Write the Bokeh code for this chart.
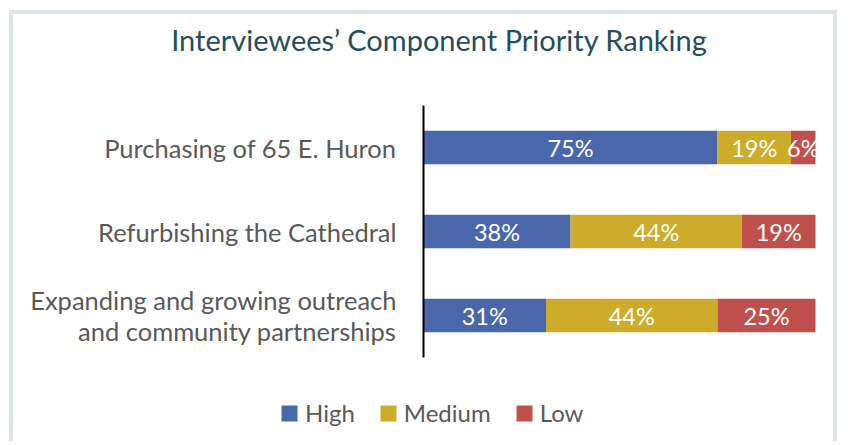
from bokeh.plotting import figure
from bokeh.models import FactorRange, Range1d, Legend, LegendItem, ColumnDataSource, Label
from bokeh.core.properties import value
from bokeh.embed import file_html
from bokeh.resources import INLINE

categories = ["Purchasing of 65 E. Huron",
              "Refurbishing the Cathedral",
              "Expanding and growing outreach\nand community partnerships"]
series = ["High", "Medium", "Low"]
high = [75.0, 37.5, 31.25]
medium = [18.75, 43.75, 43.75]
low = [6.25, 18.75, 25.0]
labels_high = ["75%", "38%", "31%"]
labels_medium = ["19%", "44%", "44%"]
labels_low = ["6%", "19%", "25%"]
colors = ["#4A67AC", "#CCAC2A", "#C0504D"]

FONT = "Lato"
BORDER = "4px solid #dde4e7"
# layout (pixels): canvas 828 x 431, plot area starts 410 px from the left
W, H = 828, 431
TOP_PAD = 3
AREA_LEFT, AREA_W = 410, 392          # where 0..100 % is drawn
BAND = 84                             # px per category
px_per_unit = AREA_W / 100.0
x_start = -AREA_LEFT / px_per_unit
x_end = x_start + W / px_per_unit
frame_h = H - TOP_PAD
pad_units = (frame_h - BAND * len(categories)) / BAND / 2   # padding on each side

p = figure(width=W, height=H, output_backend="svg", toolbar_location=None,
           x_range=Range1d(x_start, x_end),
           y_range=FactorRange(*reversed(categories), range_padding=pad_units,
                               range_padding_units="absolute"),
           min_border_left=0, min_border_right=0, min_border_top=TOP_PAD,
           min_border_bottom=0, outline_line_color=None,
           styles={"border-top": BORDER, "border-left": BORDER, "border-right": BORDER,
                   "margin-left": "9px", "margin-top": "10px"})
p.xaxis.visible = False
p.yaxis.visible = False
p.xgrid.visible = False
p.ygrid.visible = False

src = ColumnDataSource(dict(cat=categories, High=high, Medium=medium, Low=low))
renderers = p.hbar_stack(series, y="cat", height=0.4, color=colors, source=src, line_color=None)

# vertical category axis line
p.segment(x0=[0], y0=[0], x1=[0], y1=[len(categories)], line_color="black", line_width=2)

# category labels
p.text(x=[0] * len(categories), y=categories, text=categories, x_offset=-27,
       text_color="#595959", text_font=value(FONT), text_font_size="25.5px",
       text_align="right", text_baseline="middle", text_line_height=1.04)

# segment value labels
starts = [0.0] * len(categories)
for vals, labs in zip([high, medium, low], [labels_high, labels_medium, labels_low]):
    mids = [s + v / 2 for s, v in zip(starts, vals)]
    p.text(x=mids, y=categories, text=labs, text_color="white",
           text_font=value(FONT), text_font_size="23.5px",
           text_align="center", text_baseline="middle")
    starts = [s + v for s, v in zip(starts, vals)]

legend = Legend(items=[LegendItem(label=s, renderers=[r]) for s, r in zip(series, renderers)],
                orientation="horizontal", location=(266, 18),
                border_line_color=None, background_fill_alpha=0, padding=0, margin=0,
                label_text_font=FONT, label_text_font_size="24px",
                label_text_color="#595959", glyph_width=20, glyph_height=20,
                spacing=23, label_standoff=6)
p.add_layout(legend, "center")

title = Label(x=426, y=frame_h - 22, x_units="screen", y_units="screen",
              text="Interviewees\u2019 Component Priority Ranking",
              text_font=FONT, text_font_size="29px", text_color="#264D5C",
              text_align="center", text_baseline="alphabetic")
p.add_layout(title)

open("out.html", "w").write(file_html(p, INLINE))
